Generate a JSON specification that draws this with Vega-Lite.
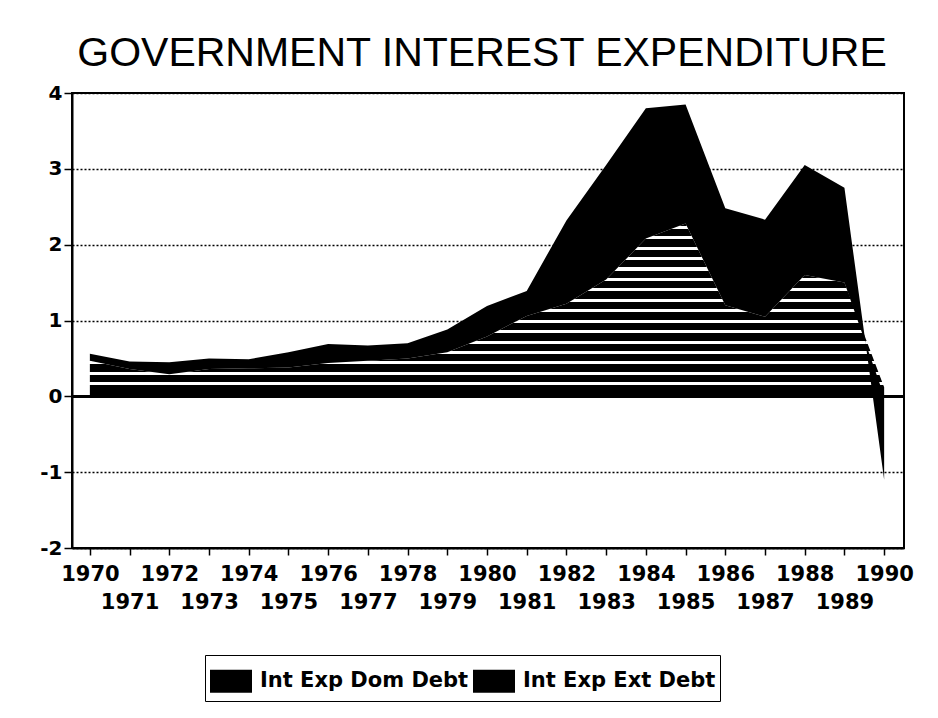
{
  "$schema": "https://vega.github.io/schema/vega-lite/v6.json",
  "width": 832,
  "height": 455,
  "autosize": "none",
  "padding": {"left": 72, "top": 93, "right": 34, "bottom": 170},
  "background": "white",
  "config": {
    "view": {"stroke": "black", "strokeWidth": 2},
    "axis": {
      "domainColor": "black", "domainWidth": 2,
      "tickColor": "black", "tickWidth": 1.5,
      "labelColor": "black", "labelFont": "DejaVu Sans", "labelFontWeight": "bold", "labelFontSize": 20,
      "title": null
    }
  },
  "title": {
    "text": "GOVERNMENT INTEREST EXPENDITURE",
    "font": "Liberation Sans", "fontSize": 41, "fontWeight": "normal", "color": "black",
    "frame": "group", "anchor": "middle", "baseline": "alphabetic", "offset": 26, "dx": -6, "dy": 50
  },
  "data": {
    "values": [
      {"year": 1970, "series": "Int Exp Dom Debt", "value": 0.47},
      {"year": 1971, "series": "Int Exp Dom Debt", "value": 0.36},
      {"year": 1972, "series": "Int Exp Dom Debt", "value": 0.29},
      {"year": 1973, "series": "Int Exp Dom Debt", "value": 0.36},
      {"year": 1974, "series": "Int Exp Dom Debt", "value": 0.37},
      {"year": 1975, "series": "Int Exp Dom Debt", "value": 0.38},
      {"year": 1976, "series": "Int Exp Dom Debt", "value": 0.44},
      {"year": 1977, "series": "Int Exp Dom Debt", "value": 0.47},
      {"year": 1978, "series": "Int Exp Dom Debt", "value": 0.50},
      {"year": 1979, "series": "Int Exp Dom Debt", "value": 0.58},
      {"year": 1980, "series": "Int Exp Dom Debt", "value": 0.79},
      {"year": 1981, "series": "Int Exp Dom Debt", "value": 1.06},
      {"year": 1982, "series": "Int Exp Dom Debt", "value": 1.22},
      {"year": 1983, "series": "Int Exp Dom Debt", "value": 1.54},
      {"year": 1984, "series": "Int Exp Dom Debt", "value": 2.08},
      {"year": 1985, "series": "Int Exp Dom Debt", "value": 2.28},
      {"year": 1986, "series": "Int Exp Dom Debt", "value": 1.20},
      {"year": 1987, "series": "Int Exp Dom Debt", "value": 1.05},
      {"year": 1988, "series": "Int Exp Dom Debt", "value": 1.60},
      {"year": 1989, "series": "Int Exp Dom Debt", "value": 1.50},
      {"year": 1990, "series": "Int Exp Dom Debt", "value": 0.12},
      {"year": 1970, "series": "Int Exp Ext Debt", "value": 0.09},
      {"year": 1971, "series": "Int Exp Ext Debt", "value": 0.10},
      {"year": 1972, "series": "Int Exp Ext Debt", "value": 0.16},
      {"year": 1973, "series": "Int Exp Ext Debt", "value": 0.14},
      {"year": 1974, "series": "Int Exp Ext Debt", "value": 0.12},
      {"year": 1975, "series": "Int Exp Ext Debt", "value": 0.20},
      {"year": 1976, "series": "Int Exp Ext Debt", "value": 0.25},
      {"year": 1977, "series": "Int Exp Ext Debt", "value": 0.20},
      {"year": 1978, "series": "Int Exp Ext Debt", "value": 0.20},
      {"year": 1979, "series": "Int Exp Ext Debt", "value": 0.30},
      {"year": 1980, "series": "Int Exp Ext Debt", "value": 0.40},
      {"year": 1981, "series": "Int Exp Ext Debt", "value": 0.33},
      {"year": 1982, "series": "Int Exp Ext Debt", "value": 1.10},
      {"year": 1983, "series": "Int Exp Ext Debt", "value": 1.51},
      {"year": 1984, "series": "Int Exp Ext Debt", "value": 1.72},
      {"year": 1985, "series": "Int Exp Ext Debt", "value": 1.57},
      {"year": 1986, "series": "Int Exp Ext Debt", "value": 1.28},
      {"year": 1987, "series": "Int Exp Ext Debt", "value": 1.28},
      {"year": 1988, "series": "Int Exp Ext Debt", "value": 1.45},
      {"year": 1989, "series": "Int Exp Ext Debt", "value": 1.25},
      {"year": 1990, "series": "Int Exp Ext Debt", "value": -1.10}
    ]
  },
  "layer": [
    {
      "mark": {"type": "rule", "color": "black", "strokeWidth": 2},
      "encoding": {"y": {"datum": 0, "type": "quantitative"}}
    },
    {
      "mark": {"type": "area", "interpolate": "linear"},
      "encoding": {
        "x": {
          "field": "year", "type": "quantitative",
          "scale": {"domain": [1969.55, 1990.5], "nice": false, "zero": false},
          "axis": {
            "values": [1970,1971,1972,1973,1974,1975,1976,1977,1978,1979,1980,1981,1982,1983,1984,1985,1986,1987,1988,1989,1990],
            "labelExpr": "datum.value % 2 === 0 ? '' + datum.value : ['', '' + datum.value]",
            "labelBaseline": "top", "labelLineHeight": 28, "labelPadding": 8, "tickSize": 7,
            "labelFontSize": 21,
            "labelOverlap": false, "labelFlush": false, "grid": false
          }
        },
        "y": {
          "field": "value", "type": "quantitative", "stack": "zero",
          "scale": {"domain": [-2, 4], "nice": false},
          "axis": {
            "values": [-2, -1, 0, 1, 2, 3, 4],
            "labelExpr": "'' + datum.value",
            "tickSize": 8, "labelPadding": 2,
            "grid": true, "gridColor": "black", "gridWidth": 1.5, "gridDash": [2, 2]
          }
        },
        "order": {"field": "series", "sort": "ascending"},
        "fill": {
          "condition": {
            "test": "datum.series === 'Int Exp Dom Debt'",
            "value": {
              "gradient": "linear", "x1": 0, "y1": 0, "x2": 0, "y2": 1,
              "stops": [
                {"offset": 0, "color": "black"},
                {"offset": 0.0131, "color": "black"}, {"offset": 0.0131, "color": "white"}, {"offset": 0.0307, "color": "white"}, {"offset": 0.0307, "color": "black"},
                {"offset": 0.0737, "color": "black"}, {"offset": 0.0737, "color": "white"}, {"offset": 0.0913, "color": "white"}, {"offset": 0.0913, "color": "black"},
                {"offset": 0.1342, "color": "black"}, {"offset": 0.1342, "color": "white"}, {"offset": 0.1518, "color": "white"}, {"offset": 0.1518, "color": "black"},
                {"offset": 0.1943, "color": "black"}, {"offset": 0.1943, "color": "white"}, {"offset": 0.2119, "color": "white"}, {"offset": 0.2119, "color": "black"},
                {"offset": 0.2548, "color": "black"}, {"offset": 0.2548, "color": "white"}, {"offset": 0.2724, "color": "white"}, {"offset": 0.2724, "color": "black"},
                {"offset": 0.3153, "color": "black"}, {"offset": 0.3153, "color": "white"}, {"offset": 0.3329, "color": "white"}, {"offset": 0.3329, "color": "black"},
                {"offset": 0.3754, "color": "black"}, {"offset": 0.3754, "color": "white"}, {"offset": 0.3930, "color": "white"}, {"offset": 0.3930, "color": "black"},
                {"offset": 0.4359, "color": "black"}, {"offset": 0.4359, "color": "white"}, {"offset": 0.4535, "color": "white"}, {"offset": 0.4535, "color": "black"},
                {"offset": 0.4960, "color": "black"}, {"offset": 0.4960, "color": "white"}, {"offset": 0.5136, "color": "white"}, {"offset": 0.5136, "color": "black"},
                {"offset": 0.5565, "color": "black"}, {"offset": 0.5565, "color": "white"}, {"offset": 0.5741, "color": "white"}, {"offset": 0.5741, "color": "black"},
                {"offset": 0.6171, "color": "black"}, {"offset": 0.6171, "color": "white"}, {"offset": 0.6347, "color": "white"}, {"offset": 0.6347, "color": "black"},
                {"offset": 0.6772, "color": "black"}, {"offset": 0.6772, "color": "white"}, {"offset": 0.6948, "color": "white"}, {"offset": 0.6948, "color": "black"},
                {"offset": 0.7377, "color": "black"}, {"offset": 0.7377, "color": "white"}, {"offset": 0.7553, "color": "white"}, {"offset": 0.7553, "color": "black"},
                {"offset": 0.7982, "color": "black"}, {"offset": 0.7982, "color": "white"}, {"offset": 0.8158, "color": "white"}, {"offset": 0.8158, "color": "black"},
                {"offset": 0.8583, "color": "black"}, {"offset": 0.8583, "color": "white"}, {"offset": 0.8759, "color": "white"}, {"offset": 0.8759, "color": "black"},
                {"offset": 0.9188, "color": "black"}, {"offset": 0.9188, "color": "white"}, {"offset": 0.9364, "color": "white"}, {"offset": 0.9364, "color": "black"},
                {"offset": 1, "color": "black"}
              ]
            }
          },
          "value": "black"
        },
        "opacity": {
          "field": "series", "type": "nominal",
          "scale": {"domain": ["Int Exp Dom Debt", "Int Exp Ext Debt"], "range": [1, 1]},
          "legend": {
            "title": null, "orient": "none", "legendX": 133, "legendY": 562, "direction": "horizontal",
            "padding": 4, "strokeColor": "black", "fillColor": "white",
            "symbolType": "M-1,-0.55H1V0.55H-1Z", "symbolSize": 1764,
            "symbolStrokeColor": "black", "symbolStrokeWidth": 2, "symbolFillColor": "black",
            "labelFont": "DejaVu Sans", "labelFontWeight": "bold", "labelFontSize": 21, "labelColor": "black",
            "labelLimit": 0, "labelOffset": 7, "columnPadding": 0,
            "encode": {
              "legend": {"update": {"strokeWidth": {"value": 2}}},
              "symbols": {
                "update": {
                  "stroke": {"value": "black"},
                  "strokeWidth": {"value": 2},
                  "fill": [
                    {
                      "test": "datum.value === 'Int Exp Dom Debt'",
                      "value": {
                        "gradient": "linear", "x1": 0, "y1": 0, "x2": 0, "y2": 1,
                        "stops": [
                          {"offset": 0, "color": "black"},
                          {"offset": 0.25, "color": "black"}, {"offset": 0.25, "color": "white"},
                          {"offset": 0.42, "color": "white"}, {"offset": 0.42, "color": "black"},
                          {"offset": 0.58, "color": "black"}, {"offset": 0.58, "color": "white"},
                          {"offset": 0.75, "color": "white"}, {"offset": 0.75, "color": "black"},
                          {"offset": 1, "color": "black"}
                        ]
                      }
                    },
                    {"value": "black"}
                  ]
                }
              }
            }
          }
        }
      }
    }
  ]
}
